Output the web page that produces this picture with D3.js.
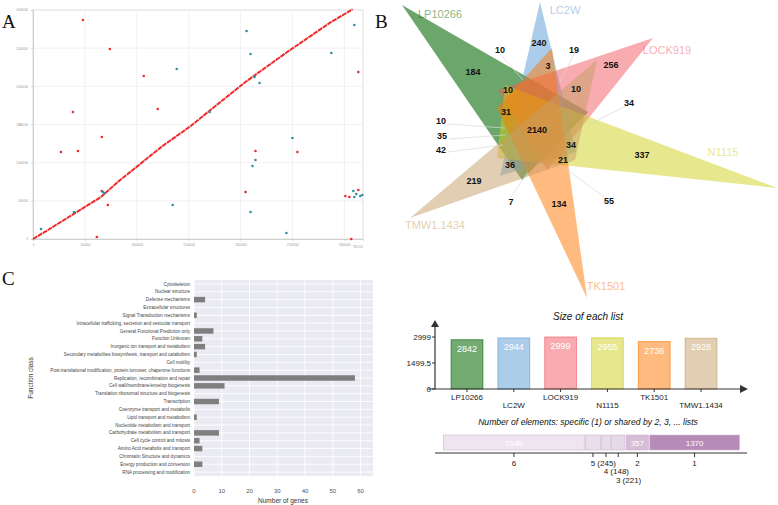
<!DOCTYPE html>
<html><head><meta charset="utf-8">
<script src="https://cdn.jsdelivr.net/npm/d3@7"></script>
<style>body{margin:0;background:#fff}svg{display:block}</style>
</head><body><svg id="c" width="778" height="505"></svg>
<script>
// ================= DATA =================
// Panel A: genome alignment dot plot (positions in Mb)
const alignX = [0, 0.144, 0.654, 0.817, 1.25, 1.52, 1.71, 2.05, 2.45, 2.87, 3.08];
const alignY = [0, 0.118, 0.55, 0.747, 1.22, 1.48, 1.69, 2.06, 2.45, 2.84, 3.01];
const redX = [0.481,0.740,1.067,0.385,1.202,0.663,0.269,0.433,0.721,0.615,0.663,3.135,2.144,2.548,2.048,3.010,3.048,3.135,3.067];
const redY = [2.869,2.489,2.135,1.664,1.703,1.336,1.140,1.153,0.445,0.026,0.629,2.188,1.153,1.140,0.616,0.563,0.550,0.642,0.0];
const tealX = [1.385,0.077,0.394,1.346,0.673,0.692,2.058,2.096,2.135,2.183,1.702,3.096,2.875,2.500,2.144,2.115,2.096,2.442,3.087,3.115,3.154,3.173,3.096];
const tealY = [2.227,0.131,0.354,0.445,0.616,0.603,2.725,2.424,2.122,2.044,1.664,2.804,2.437,1.323,1.035,0.956,0.354,0.079,0.629,0.590,0.563,0.576,0.550];
const gridTicksA = [0, 0.5, 1, 1.5, 2, 2.5, 3];

// Panel B: Venn sets and counts
const setNames = ["LP10266","LC2W","LOCK919","N1115","TK1501","TMW1.1434"];
const setColors = ["#006600","#5a9bd4","#f15a60","#cfcf1b","#ff7500","#c59d66"];
const listSizes = [2842, 2944, 2999, 2955, 2736, 2928];
const sizeTicks = [0, 1499.5, 2999];
const regionCounts = [10,240,19,184,3,256,10,10,31,2140,34,10,35,42,34,21,36,219,7,134,337,55];
const sharedLevels = ["6","5","4","3","2","1"];
const sharedCounts = [2140, 245, 148, 221, 357, 1370];

// Panel C: COG function classes
const cogClasses = ["Cytoskeleton","Nuclear structure","Defense mechanisms","Extracellular structures",
 "Signal Transduction mechanisms","Intracellular trafficking, secretion and vesicular transport",
 "General Functional Prediction only","Function Unknown","Inorganic ion transport and metabolism",
 "Secondary metabolites biosynthesis, transport and catabolism","Cell motility",
 "Post-translational modification, protein turnover, chaperone functions","Replication, recombination and repair",
 "Cell wall/membrane/envelop biogenesis","Translation ribosomal structure and biogenesis","Transcription",
 "Coenzyme transport and metabolis","Lipid transport and metabolism","Nucleotide metabolism and transport",
 "Carbohydrate metabolism and transport","Cell cycle control and mitosis","Amino Acid metabolis and transport",
 "Chromatin Structure and dynamics","Energy production and conversion","RNA processing and modification"];
const cogGenes = [0,0,4,0,1,0,7,3,4,1,0,2,58,11,0,9,0,1,0,9,2,3,0,3,0];
const geneTicks = [0,10,20,30,40,50,60];

// ================= LAYOUT (Venn geometry in local units) =================
const vennTriangles = [
  [[2,5],[188,112],[122,180]],     // LP10266
  [[140,2],[100,176],[176,152]],   // LC2W
  [[253,38],[98,90],[147,170]],    // LOCK919
  [[377,188],[105,85],[97,158]],   // N1115
  [[187,298],[152,48],[97,108]],   // TK1501
  [[10,218],[197,60],[175,160]]    // TMW1.1434
];
const vennNameLayout = [[40,18],[165,14],[267,54],[323,156],[206,290],[35,229]];
const regionLayout = [[100,50],[139,43],[174,50],[73,72],[148,66],[211,65],[108,90],[176,89],[106,112],[137,130],[229,103],
  [41,121],[42,136],[41,150],[171,145],[163,160],[110,165],[74,181],[111,202],[159,204],[242,155],[209,201]];
const leaderLines = [[100,54,123,80],[174,54,160,82],[226,106,190,124],[48,124,105,128],[49,139,105,135],[48,152,103,145],[111,197,128,172],[204,197,165,168]];

const svg = d3.select("#c");
svg.append("rect").attr("width",778).attr("height",505).attr("fill","#fff");

// ================= PANEL A =================
const xA = d3.scaleLinear().domain([0,3.18]).range([33,363]);
const yA = d3.scaleLinear().domain([0,3.0]).range([239,10]);
const gA = svg.append("g");
gA.append("rect").attr("x",xA(0)).attr("y",yA(3)).attr("width",xA(3.18)-xA(0)).attr("height",yA(0)-yA(3))
  .attr("fill","#fff").attr("stroke","#d6d6d6").attr("stroke-width",0.8);
gA.selectAll(".gvx").data(gridTicksA.slice(1)).join("line")
  .attr("x1",d=>xA(d)).attr("x2",d=>xA(d)).attr("y1",yA(0)).attr("y2",yA(3)).attr("stroke","#ececec").attr("stroke-width",0.7);
gA.selectAll(".gvy").data(gridTicksA.slice(1)).join("line")
  .attr("y1",d=>yA(d)).attr("y2",d=>yA(d)).attr("x1",xA(0)).attr("x2",xA(3.18)).attr("stroke","#ececec").attr("stroke-width",0.7);
const axAx = d3.axisBottom(xA).tickValues(gridTicksA).tickSize(2).tickFormat(d=>d3.format("d")(d*1e6));
const axAy = d3.axisLeft(yA).tickValues(gridTicksA).tickSize(2).tickFormat(d=>d3.format("d")(d*1e6));
const gax = gA.append("g").attr("transform",`translate(0,${yA(0)})`).call(axAx);
const gay = gA.append("g").attr("transform",`translate(${xA(0)},0)`).call(axAy);
[gax,gay].forEach(g=>{g.select(".domain").attr("stroke","#bbb").attr("stroke-width",0.6);
  g.selectAll(".tick line").attr("stroke","#bbb").attr("stroke-width",0.5);
  g.selectAll("text").attr("font-size",3).attr("fill","#999").attr("font-family","Liberation Sans");});
gA.append("text").attr("x",xA(3.18)).attr("y",yA(0)+9).attr("font-size",3).attr("fill","#999").attr("text-anchor","end").text("TK1501");
gA.append("text").attr("transform",`translate(${xA(0)-12},${yA(1.5)}) rotate(-90)`).attr("font-size",3).attr("fill","#999").attr("text-anchor","middle").text("ref");
gA.append("path").datum(alignX.map((x,i)=>[x,alignY[i]]))
  .attr("d",d3.line().x(d=>xA(d[0])).y(d=>yA(d[1])))
  .attr("fill","none").attr("stroke","#ee2a2a").attr("stroke-width",2).attr("stroke-dasharray","5,0.7");
gA.selectAll(".red").data(redX.map((x,i)=>[x,redY[i]])).join("circle")
  .attr("cx",d=>xA(d[0])).attr("cy",d=>yA(d[1])).attr("r",1.3).attr("fill","#ee2a2a");
gA.selectAll(".teal").data(tealX.map((x,i)=>[x,tealY[i]])).join("circle")
  .attr("cx",d=>xA(d[0])).attr("cy",d=>yA(d[1])).attr("r",1.3).attr("fill","#2e8f9e");

// panel letters
const letter = (t,x,y)=>svg.append("text").attr("x",x).attr("y",y).attr("font-family","Liberation Serif")
  .attr("font-size",19).attr("fill","#111").text(t);
letter("A",2,28); letter("B",375,28); letter("C",2,285);

// ================= PANEL B: VENN =================
const vx = d3.scaleLinear().domain([0,378]).range([400,778]);
const vy = d3.scaleLinear().domain([0,300]).range([0,300]);
const gB = svg.append("g");
const tri = d3.line().x(d=>vx(d[0])).y(d=>vy(d[1])).curve(d3.curveLinearClosed);
gB.selectAll(".tri").data(vennTriangles).join("path")
  .attr("d",d=>tri(d)).attr("fill",(d,i)=>setColors[i]).attr("fill-opacity",(d,i)=>i===0?0.58:0.5);
gB.selectAll(".lead").data(leaderLines).join("line")
  .attr("x1",d=>vx(d[0])).attr("y1",d=>vy(d[1])).attr("x2",d=>vx(d[2])).attr("y2",d=>vy(d[3]))
  .attr("stroke","#d8d8d8").attr("stroke-width",0.7);
gB.selectAll(".sname").data(setNames).join("text")
  .attr("x",(d,i)=>vx(vennNameLayout[i][0])).attr("y",(d,i)=>vy(vennNameLayout[i][1]))
  .attr("text-anchor","middle").attr("font-family","Liberation Sans").attr("font-size",11)
  .attr("fill",(d,i)=>setColors[i]).attr("fill-opacity",0.5).text(d=>d);
gB.selectAll(".cnt").data(regionCounts).join("text")
  .attr("x",(d,i)=>vx(regionLayout[i][0])).attr("y",(d,i)=>vy(regionLayout[i][1])+3)
  .attr("text-anchor","middle").attr("font-family","Liberation Sans").attr("font-weight","bold")
  .attr("font-size",9).attr("fill","#111").text(d=>d);

// ================= SIZE OF EACH LIST =================
const gS = svg.append("g").attr("font-family","Liberation Sans");
const xS = d3.scaleBand().domain(setNames).range([443.6,724.4]).paddingInner(0.32).paddingOuter(0.16);
const yS = d3.scaleLinear().domain([0,2999]).range([389,337]);
gS.append("text").attr("x",588).attr("y",320).attr("text-anchor","middle").attr("font-style","italic")
  .attr("font-size",10).attr("fill","#111").text("Size of each list");
gS.selectAll(".sb").data(listSizes).join("rect")
  .attr("x",(d,i)=>xS(setNames[i])).attr("width",xS.bandwidth())
  .attr("y",d=>yS(d)).attr("height",d=>yS(0)-yS(d))
  .attr("fill",(d,i)=>setColors[i]).attr("fill-opacity",(d,i)=>i===0?0.55:0.5)
  .attr("stroke",(d,i)=>setColors[i]).attr("stroke-opacity",0.6).attr("stroke-width",1);
gS.selectAll(".sv").data(listSizes).join("text")
  .attr("x",(d,i)=>xS(setNames[i])+xS.bandwidth()/2).attr("y",d=>yS(d)+12)
  .attr("text-anchor","middle").attr("font-size",9).attr("fill","#fff").text(d=>d);
gS.append("line").attr("x1",435).attr("x2",435).attr("y1",yS(0)).attr("y2",324).attr("stroke","#333").attr("stroke-width",1.2);
gS.append("path").attr("d",`M431,327L435,320L439,327Z`).attr("fill","#333");
gS.append("line").attr("x1",428).attr("x2",742).attr("y1",yS(0)).attr("y2",yS(0)).attr("stroke","#333").attr("stroke-width",1.2);
gS.append("path").attr("d",`M740,${yS(0)-4}L748,${yS(0)}L740,${yS(0)+4}Z`).attr("fill","#333");
gS.selectAll(".yt").data(sizeTicks).join("text")
  .attr("x",431).attr("y",d=>yS(d)+3).attr("text-anchor","end").attr("font-size",8).attr("fill","#222")
  .text(d=>d);
gS.selectAll(".ytl").data(sizeTicks).join("line").attr("x1",432).attr("x2",435).attr("y1",d=>yS(d)).attr("y2",d=>yS(d)).attr("stroke","#333");
gS.selectAll(".xtl").data(setNames).join("line")
  .attr("x1",d=>xS(d)+xS.bandwidth()/2).attr("x2",d=>xS(d)+xS.bandwidth()/2)
  .attr("y1",yS(0)).attr("y2",yS(0)+3).attr("stroke","#333");
gS.selectAll(".xl").data(setNames).join("text")
  .attr("x",d=>xS(d)+xS.bandwidth()/2).attr("y",(d,i)=>i%2===0?400:408)
  .attr("text-anchor","middle").attr("font-size",8).attr("fill","#222").text(d=>d);

// ================= SHARED ELEMENTS BAR =================
const gE = svg.append("g").attr("font-family","Liberation Sans");
const total = d3.sum(sharedCounts);
const xE = d3.scaleLinear().domain([0,total]).range([443,740]);
const cum = d3.cumsum(sharedCounts);
const segMid = i => (xE(cum[i]-sharedCounts[i])+xE(cum[i]))/2;
const segFill = ["#efe5f0","#eadeeb","#e8dbe9","#e6d8e7","#d6bcd7","#b68bb8"];
gE.append("text").attr("x",588).attr("y",425).attr("text-anchor","middle").attr("font-style","italic")
  .attr("font-size",8.6).attr("fill","#111").text("Number of elements: specific (1) or shared by 2, 3, ... lists");
gE.selectAll(".seg").data(sharedCounts).join("rect")
  .attr("x",(d,i)=>xE(cum[i]-d)+0.6).attr("width",(d,i)=>xE(cum[i])-xE(cum[i]-d)-1.2)
  .attr("y",435).attr("height",15).attr("fill",(d,i)=>segFill[i]).attr("stroke","#cdb5cd").attr("stroke-width",0.6);
gE.selectAll(".segv").data(sharedCounts.map((d,i)=>[d,i]).filter(p=>p[1]===0||p[1]>=4)).join("text")
  .attr("x",p=>segMid(p[1])).attr("y",446).attr("text-anchor","middle").attr("font-size",8).attr("fill","#fff").text(p=>p[0]);
gE.append("line").attr("x1",435).attr("x2",747).attr("y1",453).attr("y2",453).attr("stroke","#333").attr("stroke-width",1.2);
gE.selectAll(".et").data(sharedCounts).join("line")
  .attr("x1",(d,i)=>segMid(i)).attr("x2",(d,i)=>segMid(i))
  .attr("y1",453).attr("y2",457).attr("stroke","#333");
const elLabel = (d,i)=> (i===0||i>=4) ? sharedLevels[i] : `${sharedLevels[i]} (${d})`;
const elDy = [0,0,8,17,0,0];
gE.selectAll(".el").data(sharedCounts).join("text")
  .attr("x",(d,i)=>(i>=1&&i<=3)?segMid(i)-2.3:segMid(i)).attr("y",(d,i)=>466+elDy[i])
  .attr("text-anchor",(d,i)=>(i>=1&&i<=3)?"start":"middle").attr("font-size",8).attr("fill","#222").text(elLabel);

// ================= PANEL C =================
const gC = svg.append("g").attr("font-family","Liberation Sans");
const xC = d3.scaleLinear().domain([0,64.5]).range([194,373]);
const yC = d3.scaleBand().domain(cogClasses).range([280,476]).paddingInner(0.3).paddingOuter(0.15);
gC.append("rect").attr("x",xC(0)).attr("y",280).attr("width",xC(64.5)-xC(0)).attr("height",196).attr("fill","#eaeaf2");
gC.selectAll(".gvx").data(geneTicks).join("line")
  .attr("x1",d=>xC(d)).attr("x2",d=>xC(d)).attr("y1",280).attr("y2",476).attr("stroke","#fff").attr("stroke-width",0.9);
gC.selectAll(".gvy").data(cogClasses).join("line")
  .attr("y1",d=>yC(d)+yC.bandwidth()/2).attr("y2",d=>yC(d)+yC.bandwidth()/2).attr("x1",xC(0)).attr("x2",xC(64.5))
  .attr("stroke","#fff").attr("stroke-width",0.9);
gC.selectAll(".bar").data(cogGenes).join("rect")
  .attr("x",xC(0)).attr("y",(d,i)=>yC(cogClasses[i])).attr("height",yC.bandwidth())
  .attr("width",d=>xC(d)-xC(0)).attr("fill","#7f7f7f");
gC.selectAll(".cl").data(cogClasses).join("text")
  .attr("x",190).attr("y",d=>yC(d)+yC.bandwidth()/2+1.6).attr("text-anchor","end")
  .attr("font-size",4.6).attr("fill","#444").text(d=>d);
gC.selectAll(".xt").data(geneTicks).join("text")
  .attr("x",d=>xC(d)).attr("y",493).attr("text-anchor","middle").attr("font-size",6).attr("fill","#555").text(d=>d);
gC.append("text").attr("x",283).attr("y",503).attr("text-anchor","middle").attr("font-size",6.5).attr("fill","#333").text("Number of genes");
gC.append("text").attr("transform","translate(33,378) rotate(-90)").attr("text-anchor","middle")
  .attr("font-size",6.5).attr("fill","#333").text("Function class");
</script></body></html>
